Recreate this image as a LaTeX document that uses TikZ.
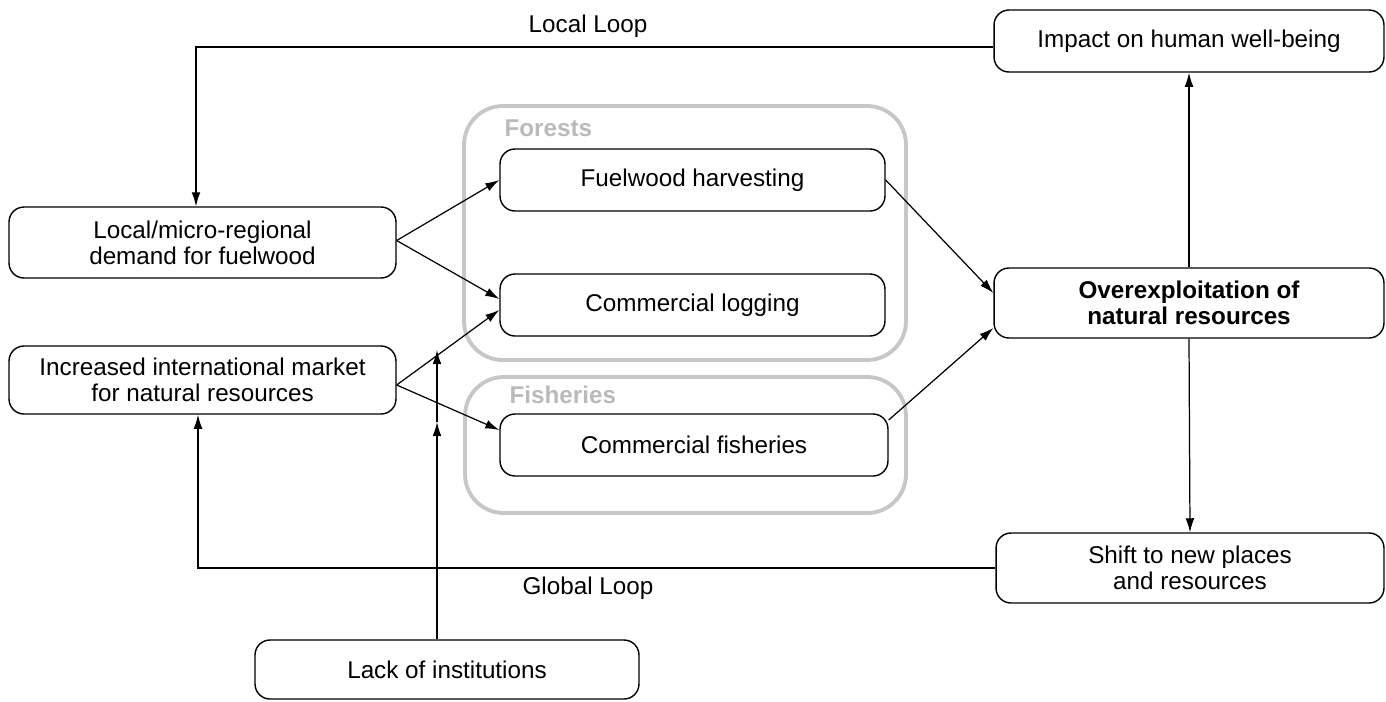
\documentclass[tikz,border=0pt]{standalone}
\usepackage{fontspec}
\setmainfont{Liberation Sans}
\usetikzlibrary{arrows.meta}
\usetikzlibrary{positioning}

\tikzset{
  block/.style={draw, rounded corners=8.5pt, line width=0.8pt, align=center,
    inner sep=0pt, font=\fontsize{13.8}{14.7}\selectfont},
  group/.style={draw=black!22, line width=2.2pt, rounded corners=22pt, inner sep=0pt},
  grouplabel/.style={text=black!27, inner sep=0pt, anchor=west,
    font=\fontsize{13.8}{15}\selectfont\bfseries},
  looplabel/.style={inner sep=0pt, font=\fontsize{13.8}{15}\selectfont}
}

\begin{document}
\begin{tikzpicture}[x=0.02cm, y=-0.02cm, line width=0.7pt, >={Latex[length=8pt,width=5pt]}]
  \useasboundingbox (0,0) rectangle (1386,701);

  \node[group, minimum width=8.84cm, minimum height=5.08cm] (forests)   at (685,233)   {};
  \node[group, minimum width=8.82cm, minimum height=2.72cm] (fisheries) at (685.5,445) {};
  \node[grouplabel] (forests_lbl)   at (504,128) {Forests};
  \node[grouplabel] (fisheries_lbl) at (509,395) {Fisheries};

  \node[block, minimum width=7.74cm, minimum height=1.42cm] (dem)   at (202.5,242.5) {Local/micro-regional\\demand for fuelwood};
  \node[block, minimum width=7.74cm, minimum height=1.36cm] (mkt)   at (202.5,380)   {Increased international market\\for natural resources};
  \node[block, minimum width=7.68cm, minimum height=1.18cm] (inst)  at (447,669.5)   {Lack of institutions};
  \node[block, minimum width=7.70cm, minimum height=1.24cm] (fuel)  at (692.5,180)   {Fuelwood harvesting};
  \node[block, minimum width=7.70cm, minimum height=1.24cm] (log)   at (692.5,305)   {Commercial logging};
  \node[block, minimum width=7.76cm, minimum height=1.24cm] (fish)  at (694,445)     {Commercial fisheries};
  \node[block, minimum width=7.80cm, minimum height=1.40cm] (over)  at (1189,303)    {\bfseries Overexploitation of\\\bfseries natural resources};
  \node[block, minimum width=7.80cm, minimum height=1.24cm] (imp)   at (1189,41)     {Impact on human well-being};
  \node[block, minimum width=7.76cm, minimum height=1.40cm] (shift) at (1190,568)    {Shift to new places\\and resources};

  \node[looplabel] (local_lbl)  at (588,26)  {Local Loop};
  \node[looplabel] (global_lbl) at (588,588) {Global Loop};

  \coordinate (ll) at (196,47);
  \coordinate (gl) at (198,568);
  \coordinate (lk) at (437,422);
  \coordinate (lt) at (437,350);

  \path[->]
    ([yshift=0.04cm]dem.east)  edge (fuel.west)
                               edge ([yshift=0.12cm]log.west)
    ([yshift=-0.1cm]mkt.east)  edge ([yshift=-0.1cm]log.west)
                               edge ([yshift=0.3cm]fish.west)
    (fuel.east)                edge ([yshift=0.2cm]over.west)
    ([yshift=0.5cm]fish.east)  edge ([yshift=-0.5cm]over.west)
    (over.north)               edge (imp.south)
    (over.south)               edge (shift.north);
  \draw[->] (imp.west |- ll) -- (ll) -- (ll |- dem.north);
  \draw[->] (shift.west |- gl) -- (gl) -- (gl |- mkt.south);
  \draw[->] (inst.north -| lk) -- (lk);
  \draw[->] (lk) -- (lt);
\end{tikzpicture}
\end{document}
